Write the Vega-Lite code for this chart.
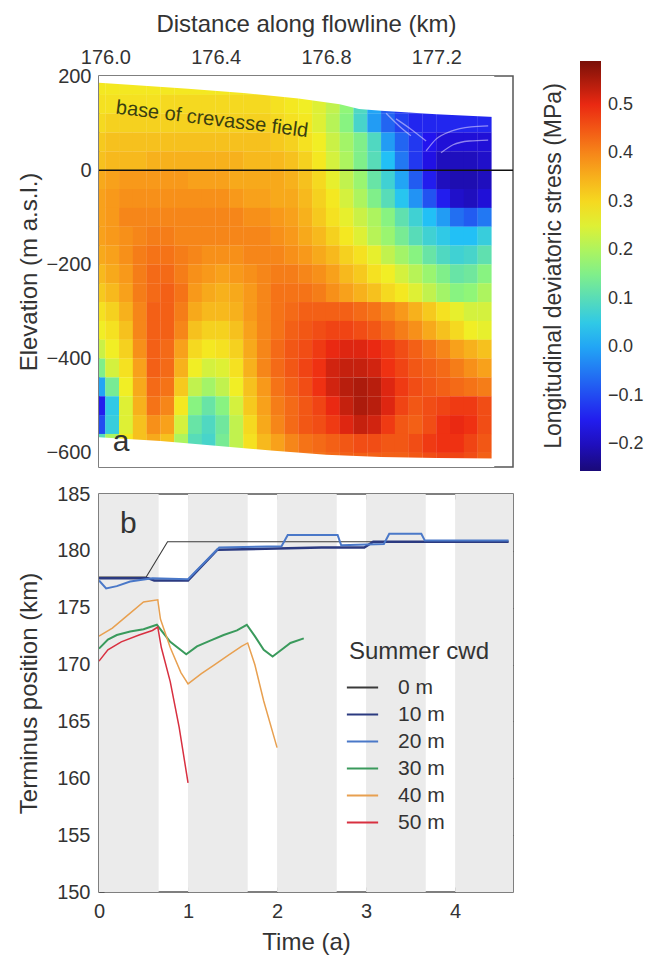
{
"$schema": "https://vega.github.io/schema/vega-lite/v6.json",
"background": "white",
"padding": {"left": 16, "top": 11, "right": 4, "bottom": 0},
"spacing": 11,
"config": {
  "font": "Liberation Sans",
  "view": {"stroke": "#555555", "strokeWidth": 1.5},
  "axis": {"labelColor": "#333333", "titleColor": "#333333", "labelFontSize": 20, "titleFontSize": 24, "titleFontWeight": "normal", "grid": false, "domain": false, "labelFlush": false, "labelOverlap": false, "tickColor": "#555555"},
  "legend": {"labelColor": "#333333", "titleColor": "#333333", "titleFontWeight": "normal"}
},
"resolve": {"scale": {"color": "independent"}},
"vconcat": [
{
  "width": 414, "height": 391,
  "layer": [
    {
      "data": {"values": [
{"dist":175.975,"elev":180,"stress":0.28},{"dist":176.025,"elev":180,"stress":0.28},{"dist":176.075,"elev":180,"stress":0.28},{"dist":176.125,"elev":180,"stress":0.28},{"dist":176.175,"elev":180,"stress":0.28},{"dist":176.225,"elev":180,"stress":0.28},{"dist":176.275,"elev":180,"stress":0.28},{"dist":176.325,"elev":180,"stress":0.28},{"dist":176.375,"elev":180,"stress":0.28},{"dist":176.425,"elev":180,"stress":0.28},{"dist":176.475,"elev":180,"stress":0.28},{"dist":176.525,"elev":180,"stress":0.28},{"dist":176.575,"elev":180,"stress":0.28},{"dist":176.625,"elev":180,"stress":0.27},{"dist":176.675,"elev":180,"stress":0.26},{"dist":176.725,"elev":180,"stress":0.25},{"dist":176.775,"elev":180,"stress":0.24},{"dist":176.825,"elev":180,"stress":0.22},{"dist":176.875,"elev":180,"stress":0.17},{"dist":176.925,"elev":180,"stress":0.1},{"dist":176.975,"elev":180,"stress":0},{"dist":177.025,"elev":180,"stress":-0.1},{"dist":177.075,"elev":180,"stress":-0.1},{"dist":177.125,"elev":180,"stress":-0.1},{"dist":177.175,"elev":180,"stress":-0.1},{"dist":177.225,"elev":180,"stress":-0.1},{"dist":177.275,"elev":180,"stress":-0.1},{"dist":177.325,"elev":180,"stress":-0.1},{"dist":177.375,"elev":180,"stress":-0.1},
{"dist":175.975,"elev":140,"stress":0.29},{"dist":176.025,"elev":140,"stress":0.29},{"dist":176.075,"elev":140,"stress":0.29},{"dist":176.125,"elev":140,"stress":0.29},{"dist":176.175,"elev":140,"stress":0.29},{"dist":176.225,"elev":140,"stress":0.3},{"dist":176.275,"elev":140,"stress":0.3},{"dist":176.325,"elev":140,"stress":0.3},{"dist":176.375,"elev":140,"stress":0.3},{"dist":176.425,"elev":140,"stress":0.3},{"dist":176.475,"elev":140,"stress":0.3},{"dist":176.525,"elev":140,"stress":0.3},{"dist":176.575,"elev":140,"stress":0.3},{"dist":176.625,"elev":140,"stress":0.29},{"dist":176.675,"elev":140,"stress":0.28},{"dist":176.725,"elev":140,"stress":0.27},{"dist":176.775,"elev":140,"stress":0.25},{"dist":176.825,"elev":140,"stress":0.22},{"dist":176.875,"elev":140,"stress":0.17},{"dist":176.925,"elev":140,"stress":0.09},{"dist":176.975,"elev":140,"stress":0},{"dist":177.025,"elev":140,"stress":-0.08},{"dist":177.075,"elev":140,"stress":-0.12},{"dist":177.125,"elev":140,"stress":-0.13},{"dist":177.175,"elev":140,"stress":-0.13},{"dist":177.225,"elev":140,"stress":-0.13},{"dist":177.275,"elev":140,"stress":-0.13},{"dist":177.325,"elev":140,"stress":-0.13},{"dist":177.375,"elev":140,"stress":-0.13},
{"dist":175.975,"elev":100,"stress":0.3},{"dist":176.025,"elev":100,"stress":0.31},{"dist":176.075,"elev":100,"stress":0.31},{"dist":176.125,"elev":100,"stress":0.31},{"dist":176.175,"elev":100,"stress":0.31},{"dist":176.225,"elev":100,"stress":0.31},{"dist":176.275,"elev":100,"stress":0.31},{"dist":176.325,"elev":100,"stress":0.31},{"dist":176.375,"elev":100,"stress":0.31},{"dist":176.425,"elev":100,"stress":0.31},{"dist":176.475,"elev":100,"stress":0.31},{"dist":176.525,"elev":100,"stress":0.31},{"dist":176.575,"elev":100,"stress":0.31},{"dist":176.625,"elev":100,"stress":0.3},{"dist":176.675,"elev":100,"stress":0.29},{"dist":176.725,"elev":100,"stress":0.28},{"dist":176.775,"elev":100,"stress":0.25},{"dist":176.825,"elev":100,"stress":0.21},{"dist":176.875,"elev":100,"stress":0.16},{"dist":176.925,"elev":100,"stress":0.08},{"dist":176.975,"elev":100,"stress":-0.01},{"dist":177.025,"elev":100,"stress":-0.07},{"dist":177.075,"elev":100,"stress":-0.11},{"dist":177.125,"elev":100,"stress":-0.14},{"dist":177.175,"elev":100,"stress":-0.14},{"dist":177.225,"elev":100,"stress":-0.14},{"dist":177.275,"elev":100,"stress":-0.14},{"dist":177.325,"elev":100,"stress":-0.14},{"dist":177.375,"elev":100,"stress":-0.14},
{"dist":175.975,"elev":60,"stress":0.32},{"dist":176.025,"elev":60,"stress":0.33},{"dist":176.075,"elev":60,"stress":0.33},{"dist":176.125,"elev":60,"stress":0.33},{"dist":176.175,"elev":60,"stress":0.33},{"dist":176.225,"elev":60,"stress":0.33},{"dist":176.275,"elev":60,"stress":0.33},{"dist":176.325,"elev":60,"stress":0.33},{"dist":176.375,"elev":60,"stress":0.33},{"dist":176.425,"elev":60,"stress":0.33},{"dist":176.475,"elev":60,"stress":0.33},{"dist":176.525,"elev":60,"stress":0.33},{"dist":176.575,"elev":60,"stress":0.33},{"dist":176.625,"elev":60,"stress":0.32},{"dist":176.675,"elev":60,"stress":0.31},{"dist":176.725,"elev":60,"stress":0.29},{"dist":176.775,"elev":60,"stress":0.27},{"dist":176.825,"elev":60,"stress":0.23},{"dist":176.875,"elev":60,"stress":0.19},{"dist":176.925,"elev":60,"stress":0.15},{"dist":176.975,"elev":60,"stress":0.09},{"dist":177.025,"elev":60,"stress":-0.01},{"dist":177.075,"elev":60,"stress":-0.07},{"dist":177.125,"elev":60,"stress":-0.12},{"dist":177.175,"elev":60,"stress":-0.16},{"dist":177.225,"elev":60,"stress":-0.18},{"dist":177.275,"elev":60,"stress":-0.18},{"dist":177.325,"elev":60,"stress":-0.18},{"dist":177.375,"elev":60,"stress":-0.18},
{"dist":175.975,"elev":20,"stress":0.33},{"dist":176.025,"elev":20,"stress":0.34},{"dist":176.075,"elev":20,"stress":0.34},{"dist":176.125,"elev":20,"stress":0.34},{"dist":176.175,"elev":20,"stress":0.35},{"dist":176.225,"elev":20,"stress":0.35},{"dist":176.275,"elev":20,"stress":0.35},{"dist":176.325,"elev":20,"stress":0.35},{"dist":176.375,"elev":20,"stress":0.35},{"dist":176.425,"elev":20,"stress":0.35},{"dist":176.475,"elev":20,"stress":0.35},{"dist":176.525,"elev":20,"stress":0.34},{"dist":176.575,"elev":20,"stress":0.34},{"dist":176.625,"elev":20,"stress":0.34},{"dist":176.675,"elev":20,"stress":0.33},{"dist":176.725,"elev":20,"stress":0.31},{"dist":176.775,"elev":20,"stress":0.28},{"dist":176.825,"elev":20,"stress":0.24},{"dist":176.875,"elev":20,"stress":0.2},{"dist":176.925,"elev":20,"stress":0.15},{"dist":176.975,"elev":20,"stress":0.1},{"dist":177.025,"elev":20,"stress":0.03},{"dist":177.075,"elev":20,"stress":-0.05},{"dist":177.125,"elev":20,"stress":-0.12},{"dist":177.175,"elev":20,"stress":-0.17},{"dist":177.225,"elev":20,"stress":-0.2},{"dist":177.275,"elev":20,"stress":-0.2},{"dist":177.325,"elev":20,"stress":-0.2},{"dist":177.375,"elev":20,"stress":-0.19},
{"dist":175.975,"elev":-20,"stress":0.36},{"dist":176.025,"elev":-20,"stress":0.37},{"dist":176.075,"elev":-20,"stress":0.38},{"dist":176.125,"elev":-20,"stress":0.38},{"dist":176.175,"elev":-20,"stress":0.38},{"dist":176.225,"elev":-20,"stress":0.38},{"dist":176.275,"elev":-20,"stress":0.38},{"dist":176.325,"elev":-20,"stress":0.37},{"dist":176.375,"elev":-20,"stress":0.37},{"dist":176.425,"elev":-20,"stress":0.37},{"dist":176.475,"elev":-20,"stress":0.36},{"dist":176.525,"elev":-20,"stress":0.36},{"dist":176.575,"elev":-20,"stress":0.36},{"dist":176.625,"elev":-20,"stress":0.36},{"dist":176.675,"elev":-20,"stress":0.35},{"dist":176.725,"elev":-20,"stress":0.33},{"dist":176.775,"elev":-20,"stress":0.3},{"dist":176.825,"elev":-20,"stress":0.26},{"dist":176.875,"elev":-20,"stress":0.22},{"dist":176.925,"elev":-20,"stress":0.18},{"dist":176.975,"elev":-20,"stress":0.12},{"dist":177.025,"elev":-20,"stress":0.07},{"dist":177.075,"elev":-20,"stress":0},{"dist":177.125,"elev":-20,"stress":-0.08},{"dist":177.175,"elev":-20,"stress":-0.15},{"dist":177.225,"elev":-20,"stress":-0.2},{"dist":177.275,"elev":-20,"stress":-0.21},{"dist":177.325,"elev":-20,"stress":-0.21},{"dist":177.375,"elev":-20,"stress":-0.2},
{"dist":175.975,"elev":-60,"stress":0.37},{"dist":176.025,"elev":-60,"stress":0.38},{"dist":176.075,"elev":-60,"stress":0.39},{"dist":176.125,"elev":-60,"stress":0.39},{"dist":176.175,"elev":-60,"stress":0.39},{"dist":176.225,"elev":-60,"stress":0.39},{"dist":176.275,"elev":-60,"stress":0.39},{"dist":176.325,"elev":-60,"stress":0.39},{"dist":176.375,"elev":-60,"stress":0.39},{"dist":176.425,"elev":-60,"stress":0.39},{"dist":176.475,"elev":-60,"stress":0.38},{"dist":176.525,"elev":-60,"stress":0.37},{"dist":176.575,"elev":-60,"stress":0.37},{"dist":176.625,"elev":-60,"stress":0.36},{"dist":176.675,"elev":-60,"stress":0.36},{"dist":176.725,"elev":-60,"stress":0.34},{"dist":176.775,"elev":-60,"stress":0.31},{"dist":176.825,"elev":-60,"stress":0.28},{"dist":176.875,"elev":-60,"stress":0.24},{"dist":176.925,"elev":-60,"stress":0.2},{"dist":176.975,"elev":-60,"stress":0.15},{"dist":177.025,"elev":-60,"stress":0.1},{"dist":177.075,"elev":-60,"stress":0.04},{"dist":177.125,"elev":-60,"stress":-0.02},{"dist":177.175,"elev":-60,"stress":-0.09},{"dist":177.225,"elev":-60,"stress":-0.15},{"dist":177.275,"elev":-60,"stress":-0.19},{"dist":177.325,"elev":-60,"stress":-0.2},{"dist":177.375,"elev":-60,"stress":-0.18},
{"dist":175.975,"elev":-100,"stress":0.37},{"dist":176.025,"elev":-100,"stress":0.38},{"dist":176.075,"elev":-100,"stress":0.4},{"dist":176.125,"elev":-100,"stress":0.4},{"dist":176.175,"elev":-100,"stress":0.4},{"dist":176.225,"elev":-100,"stress":0.4},{"dist":176.275,"elev":-100,"stress":0.4},{"dist":176.325,"elev":-100,"stress":0.4},{"dist":176.375,"elev":-100,"stress":0.4},{"dist":176.425,"elev":-100,"stress":0.4},{"dist":176.475,"elev":-100,"stress":0.4},{"dist":176.525,"elev":-100,"stress":0.39},{"dist":176.575,"elev":-100,"stress":0.39},{"dist":176.625,"elev":-100,"stress":0.38},{"dist":176.675,"elev":-100,"stress":0.37},{"dist":176.725,"elev":-100,"stress":0.35},{"dist":176.775,"elev":-100,"stress":0.32},{"dist":176.825,"elev":-100,"stress":0.29},{"dist":176.875,"elev":-100,"stress":0.26},{"dist":176.925,"elev":-100,"stress":0.23},{"dist":176.975,"elev":-100,"stress":0.2},{"dist":177.025,"elev":-100,"stress":0.16},{"dist":177.075,"elev":-100,"stress":0.11},{"dist":177.125,"elev":-100,"stress":0.07},{"dist":177.175,"elev":-100,"stress":0.03},{"dist":177.225,"elev":-100,"stress":-0.01},{"dist":177.275,"elev":-100,"stress":-0.06},{"dist":177.325,"elev":-100,"stress":-0.08},{"dist":177.375,"elev":-100,"stress":-0.05},
{"dist":175.975,"elev":-140,"stress":0.37},{"dist":176.025,"elev":-140,"stress":0.38},{"dist":176.075,"elev":-140,"stress":0.39},{"dist":176.125,"elev":-140,"stress":0.4},{"dist":176.175,"elev":-140,"stress":0.41},{"dist":176.225,"elev":-140,"stress":0.41},{"dist":176.275,"elev":-140,"stress":0.4},{"dist":176.325,"elev":-140,"stress":0.4},{"dist":176.375,"elev":-140,"stress":0.4},{"dist":176.425,"elev":-140,"stress":0.4},{"dist":176.475,"elev":-140,"stress":0.4},{"dist":176.525,"elev":-140,"stress":0.4},{"dist":176.575,"elev":-140,"stress":0.4},{"dist":176.625,"elev":-140,"stress":0.39},{"dist":176.675,"elev":-140,"stress":0.38},{"dist":176.725,"elev":-140,"stress":0.36},{"dist":176.775,"elev":-140,"stress":0.34},{"dist":176.825,"elev":-140,"stress":0.31},{"dist":176.875,"elev":-140,"stress":0.28},{"dist":176.925,"elev":-140,"stress":0.25},{"dist":176.975,"elev":-140,"stress":0.21},{"dist":177.025,"elev":-140,"stress":0.18},{"dist":177.075,"elev":-140,"stress":0.14},{"dist":177.125,"elev":-140,"stress":0.1},{"dist":177.175,"elev":-140,"stress":0.07},{"dist":177.225,"elev":-140,"stress":0.05},{"dist":177.275,"elev":-140,"stress":0.03},{"dist":177.325,"elev":-140,"stress":0.03},{"dist":177.375,"elev":-140,"stress":0.06},
{"dist":175.975,"elev":-180,"stress":0.36},{"dist":176.025,"elev":-180,"stress":0.37},{"dist":176.075,"elev":-180,"stress":0.39},{"dist":176.125,"elev":-180,"stress":0.41},{"dist":176.175,"elev":-180,"stress":0.42},{"dist":176.225,"elev":-180,"stress":0.42},{"dist":176.275,"elev":-180,"stress":0.41},{"dist":176.325,"elev":-180,"stress":0.4},{"dist":176.375,"elev":-180,"stress":0.39},{"dist":176.425,"elev":-180,"stress":0.39},{"dist":176.475,"elev":-180,"stress":0.39},{"dist":176.525,"elev":-180,"stress":0.4},{"dist":176.575,"elev":-180,"stress":0.4},{"dist":176.625,"elev":-180,"stress":0.4},{"dist":176.675,"elev":-180,"stress":0.39},{"dist":176.725,"elev":-180,"stress":0.38},{"dist":176.775,"elev":-180,"stress":0.36},{"dist":176.825,"elev":-180,"stress":0.34},{"dist":176.875,"elev":-180,"stress":0.31},{"dist":176.925,"elev":-180,"stress":0.29},{"dist":176.975,"elev":-180,"stress":0.26},{"dist":177.025,"elev":-180,"stress":0.22},{"dist":177.075,"elev":-180,"stress":0.19},{"dist":177.125,"elev":-180,"stress":0.16},{"dist":177.175,"elev":-180,"stress":0.12},{"dist":177.225,"elev":-180,"stress":0.09},{"dist":177.275,"elev":-180,"stress":0.07},{"dist":177.325,"elev":-180,"stress":0.08},{"dist":177.375,"elev":-180,"stress":0.11},
{"dist":175.975,"elev":-220,"stress":0.34},{"dist":176.025,"elev":-220,"stress":0.36},{"dist":176.075,"elev":-220,"stress":0.38},{"dist":176.125,"elev":-220,"stress":0.41},{"dist":176.175,"elev":-220,"stress":0.43},{"dist":176.225,"elev":-220,"stress":0.43},{"dist":176.275,"elev":-220,"stress":0.41},{"dist":176.325,"elev":-220,"stress":0.39},{"dist":176.375,"elev":-220,"stress":0.38},{"dist":176.425,"elev":-220,"stress":0.37},{"dist":176.475,"elev":-220,"stress":0.38},{"dist":176.525,"elev":-220,"stress":0.39},{"dist":176.575,"elev":-220,"stress":0.4},{"dist":176.625,"elev":-220,"stress":0.41},{"dist":176.675,"elev":-220,"stress":0.41},{"dist":176.725,"elev":-220,"stress":0.4},{"dist":176.775,"elev":-220,"stress":0.39},{"dist":176.825,"elev":-220,"stress":0.37},{"dist":176.875,"elev":-220,"stress":0.34},{"dist":176.925,"elev":-220,"stress":0.32},{"dist":176.975,"elev":-220,"stress":0.29},{"dist":177.025,"elev":-220,"stress":0.27},{"dist":177.075,"elev":-220,"stress":0.24},{"dist":177.125,"elev":-220,"stress":0.21},{"dist":177.175,"elev":-220,"stress":0.18},{"dist":177.225,"elev":-220,"stress":0.15},{"dist":177.275,"elev":-220,"stress":0.12},{"dist":177.325,"elev":-220,"stress":0.13},{"dist":177.375,"elev":-220,"stress":0.16},
{"dist":175.975,"elev":-260,"stress":0.32},{"dist":176.025,"elev":-260,"stress":0.34},{"dist":176.075,"elev":-260,"stress":0.37},{"dist":176.125,"elev":-260,"stress":0.41},{"dist":176.175,"elev":-260,"stress":0.43},{"dist":176.225,"elev":-260,"stress":0.44},{"dist":176.275,"elev":-260,"stress":0.42},{"dist":176.325,"elev":-260,"stress":0.38},{"dist":176.375,"elev":-260,"stress":0.36},{"dist":176.425,"elev":-260,"stress":0.35},{"dist":176.475,"elev":-260,"stress":0.36},{"dist":176.525,"elev":-260,"stress":0.38},{"dist":176.575,"elev":-260,"stress":0.4},{"dist":176.625,"elev":-260,"stress":0.42},{"dist":176.675,"elev":-260,"stress":0.42},{"dist":176.725,"elev":-260,"stress":0.42},{"dist":176.775,"elev":-260,"stress":0.41},{"dist":176.825,"elev":-260,"stress":0.39},{"dist":176.875,"elev":-260,"stress":0.37},{"dist":176.925,"elev":-260,"stress":0.35},{"dist":176.975,"elev":-260,"stress":0.33},{"dist":177.025,"elev":-260,"stress":0.3},{"dist":177.075,"elev":-260,"stress":0.28},{"dist":177.125,"elev":-260,"stress":0.25},{"dist":177.175,"elev":-260,"stress":0.22},{"dist":177.225,"elev":-260,"stress":0.19},{"dist":177.275,"elev":-260,"stress":0.16},{"dist":177.325,"elev":-260,"stress":0.17},{"dist":177.375,"elev":-260,"stress":0.2},
{"dist":175.975,"elev":-300,"stress":0.29},{"dist":176.025,"elev":-300,"stress":0.31},{"dist":176.075,"elev":-300,"stress":0.35},{"dist":176.125,"elev":-300,"stress":0.4},{"dist":176.175,"elev":-300,"stress":0.44},{"dist":176.225,"elev":-300,"stress":0.44},{"dist":176.275,"elev":-300,"stress":0.41},{"dist":176.325,"elev":-300,"stress":0.36},{"dist":176.375,"elev":-300,"stress":0.34},{"dist":176.425,"elev":-300,"stress":0.34},{"dist":176.475,"elev":-300,"stress":0.35},{"dist":176.525,"elev":-300,"stress":0.38},{"dist":176.575,"elev":-300,"stress":0.4},{"dist":176.625,"elev":-300,"stress":0.42},{"dist":176.675,"elev":-300,"stress":0.43},{"dist":176.725,"elev":-300,"stress":0.44},{"dist":176.775,"elev":-300,"stress":0.44},{"dist":176.825,"elev":-300,"stress":0.44},{"dist":176.875,"elev":-300,"stress":0.44},{"dist":176.925,"elev":-300,"stress":0.43},{"dist":176.975,"elev":-300,"stress":0.42},{"dist":177.025,"elev":-300,"stress":0.4},{"dist":177.075,"elev":-300,"stress":0.38},{"dist":177.125,"elev":-300,"stress":0.35},{"dist":177.175,"elev":-300,"stress":0.32},{"dist":177.225,"elev":-300,"stress":0.29},{"dist":177.275,"elev":-300,"stress":0.26},{"dist":177.325,"elev":-300,"stress":0.24},{"dist":177.375,"elev":-300,"stress":0.24},
{"dist":175.975,"elev":-340,"stress":0.27},{"dist":176.025,"elev":-340,"stress":0.29},{"dist":176.075,"elev":-340,"stress":0.33},{"dist":176.125,"elev":-340,"stress":0.4},{"dist":176.175,"elev":-340,"stress":0.44},{"dist":176.225,"elev":-340,"stress":0.44},{"dist":176.275,"elev":-340,"stress":0.4},{"dist":176.325,"elev":-340,"stress":0.33},{"dist":176.375,"elev":-340,"stress":0.31},{"dist":176.425,"elev":-340,"stress":0.31},{"dist":176.475,"elev":-340,"stress":0.33},{"dist":176.525,"elev":-340,"stress":0.37},{"dist":176.575,"elev":-340,"stress":0.4},{"dist":176.625,"elev":-340,"stress":0.42},{"dist":176.675,"elev":-340,"stress":0.44},{"dist":176.725,"elev":-340,"stress":0.45},{"dist":176.775,"elev":-340,"stress":0.46},{"dist":176.825,"elev":-340,"stress":0.47},{"dist":176.875,"elev":-340,"stress":0.47},{"dist":176.925,"elev":-340,"stress":0.46},{"dist":176.975,"elev":-340,"stress":0.45},{"dist":177.025,"elev":-340,"stress":0.43},{"dist":177.075,"elev":-340,"stress":0.41},{"dist":177.125,"elev":-340,"stress":0.39},{"dist":177.175,"elev":-340,"stress":0.36},{"dist":177.225,"elev":-340,"stress":0.33},{"dist":177.275,"elev":-340,"stress":0.3},{"dist":177.325,"elev":-340,"stress":0.27},{"dist":177.375,"elev":-340,"stress":0.26},
{"dist":175.975,"elev":-380,"stress":0.23},{"dist":176.025,"elev":-380,"stress":0.27},{"dist":176.075,"elev":-380,"stress":0.31},{"dist":176.125,"elev":-380,"stress":0.39},{"dist":176.175,"elev":-380,"stress":0.44},{"dist":176.225,"elev":-380,"stress":0.43},{"dist":176.275,"elev":-380,"stress":0.37},{"dist":176.325,"elev":-380,"stress":0.3},{"dist":176.375,"elev":-380,"stress":0.28},{"dist":176.425,"elev":-380,"stress":0.29},{"dist":176.475,"elev":-380,"stress":0.31},{"dist":176.525,"elev":-380,"stress":0.36},{"dist":176.575,"elev":-380,"stress":0.4},{"dist":176.625,"elev":-380,"stress":0.43},{"dist":176.675,"elev":-380,"stress":0.45},{"dist":176.725,"elev":-380,"stress":0.46},{"dist":176.775,"elev":-380,"stress":0.48},{"dist":176.825,"elev":-380,"stress":0.5},{"dist":176.875,"elev":-380,"stress":0.51},{"dist":176.925,"elev":-380,"stress":0.51},{"dist":176.975,"elev":-380,"stress":0.5},{"dist":177.025,"elev":-380,"stress":0.48},{"dist":177.075,"elev":-380,"stress":0.46},{"dist":177.125,"elev":-380,"stress":0.44},{"dist":177.175,"elev":-380,"stress":0.42},{"dist":177.225,"elev":-380,"stress":0.4},{"dist":177.275,"elev":-380,"stress":0.37},{"dist":177.325,"elev":-380,"stress":0.35},{"dist":177.375,"elev":-380,"stress":0.33},
{"dist":175.975,"elev":-420,"stress":0.15},{"dist":176.025,"elev":-420,"stress":0.24},{"dist":176.075,"elev":-420,"stress":0.29},{"dist":176.125,"elev":-420,"stress":0.37},{"dist":176.175,"elev":-420,"stress":0.44},{"dist":176.225,"elev":-420,"stress":0.43},{"dist":176.275,"elev":-420,"stress":0.35},{"dist":176.325,"elev":-420,"stress":0.27},{"dist":176.375,"elev":-420,"stress":0.24},{"dist":176.425,"elev":-420,"stress":0.25},{"dist":176.475,"elev":-420,"stress":0.29},{"dist":176.525,"elev":-420,"stress":0.35},{"dist":176.575,"elev":-420,"stress":0.4},{"dist":176.625,"elev":-420,"stress":0.43},{"dist":176.675,"elev":-420,"stress":0.45},{"dist":176.725,"elev":-420,"stress":0.47},{"dist":176.775,"elev":-420,"stress":0.49},{"dist":176.825,"elev":-420,"stress":0.52},{"dist":176.875,"elev":-420,"stress":0.53},{"dist":176.925,"elev":-420,"stress":0.53},{"dist":176.975,"elev":-420,"stress":0.52},{"dist":177.025,"elev":-420,"stress":0.49},{"dist":177.075,"elev":-420,"stress":0.47},{"dist":177.125,"elev":-420,"stress":0.45},{"dist":177.175,"elev":-420,"stress":0.44},{"dist":177.225,"elev":-420,"stress":0.43},{"dist":177.275,"elev":-420,"stress":0.41},{"dist":177.325,"elev":-420,"stress":0.39},{"dist":177.375,"elev":-420,"stress":0.37},
{"dist":175.975,"elev":-460,"stress":0},{"dist":176.025,"elev":-460,"stress":0.14},{"dist":176.075,"elev":-460,"stress":0.27},{"dist":176.125,"elev":-460,"stress":0.36},{"dist":176.175,"elev":-460,"stress":0.43},{"dist":176.225,"elev":-460,"stress":0.42},{"dist":176.275,"elev":-460,"stress":0.32},{"dist":176.325,"elev":-460,"stress":0.22},{"dist":176.375,"elev":-460,"stress":0.19},{"dist":176.425,"elev":-460,"stress":0.22},{"dist":176.475,"elev":-460,"stress":0.27},{"dist":176.525,"elev":-460,"stress":0.33},{"dist":176.575,"elev":-460,"stress":0.38},{"dist":176.625,"elev":-460,"stress":0.42},{"dist":176.675,"elev":-460,"stress":0.44},{"dist":176.725,"elev":-460,"stress":0.46},{"dist":176.775,"elev":-460,"stress":0.49},{"dist":176.825,"elev":-460,"stress":0.52},{"dist":176.875,"elev":-460,"stress":0.54},{"dist":176.925,"elev":-460,"stress":0.55},{"dist":176.975,"elev":-460,"stress":0.54},{"dist":177.025,"elev":-460,"stress":0.51},{"dist":177.075,"elev":-460,"stress":0.48},{"dist":177.125,"elev":-460,"stress":0.46},{"dist":177.175,"elev":-460,"stress":0.45},{"dist":177.225,"elev":-460,"stress":0.44},{"dist":177.275,"elev":-460,"stress":0.43},{"dist":177.325,"elev":-460,"stress":0.42},{"dist":177.375,"elev":-460,"stress":0.41},
{"dist":175.975,"elev":-500,"stress":-0.15},{"dist":176.025,"elev":-500,"stress":0.05},{"dist":176.075,"elev":-500,"stress":0.25},{"dist":176.125,"elev":-500,"stress":0.35},{"dist":176.175,"elev":-500,"stress":0.42},{"dist":176.225,"elev":-500,"stress":0.4},{"dist":176.275,"elev":-500,"stress":0.28},{"dist":176.325,"elev":-500,"stress":0.16},{"dist":176.375,"elev":-500,"stress":0.12},{"dist":176.425,"elev":-500,"stress":0.16},{"dist":176.475,"elev":-500,"stress":0.24},{"dist":176.525,"elev":-500,"stress":0.32},{"dist":176.575,"elev":-500,"stress":0.37},{"dist":176.625,"elev":-500,"stress":0.41},{"dist":176.675,"elev":-500,"stress":0.43},{"dist":176.725,"elev":-500,"stress":0.45},{"dist":176.775,"elev":-500,"stress":0.47},{"dist":176.825,"elev":-500,"stress":0.5},{"dist":176.875,"elev":-500,"stress":0.53},{"dist":176.925,"elev":-500,"stress":0.55},{"dist":176.975,"elev":-500,"stress":0.54},{"dist":177.025,"elev":-500,"stress":0.51},{"dist":177.075,"elev":-500,"stress":0.47},{"dist":177.125,"elev":-500,"stress":0.45},{"dist":177.175,"elev":-500,"stress":0.46},{"dist":177.225,"elev":-500,"stress":0.47},{"dist":177.275,"elev":-500,"stress":0.48},{"dist":177.325,"elev":-500,"stress":0.48},{"dist":177.375,"elev":-500,"stress":0.46},
{"dist":175.975,"elev":-540,"stress":-0.1},{"dist":176.025,"elev":-540,"stress":0.06},{"dist":176.075,"elev":-540,"stress":0.25},{"dist":176.125,"elev":-540,"stress":0.33},{"dist":176.175,"elev":-540,"stress":0.39},{"dist":176.225,"elev":-540,"stress":0.37},{"dist":176.275,"elev":-540,"stress":0.24},{"dist":176.325,"elev":-540,"stress":0.12},{"dist":176.375,"elev":-540,"stress":0.09},{"dist":176.425,"elev":-540,"stress":0.13},{"dist":176.475,"elev":-540,"stress":0.22},{"dist":176.525,"elev":-540,"stress":0.3},{"dist":176.575,"elev":-540,"stress":0.36},{"dist":176.625,"elev":-540,"stress":0.4},{"dist":176.675,"elev":-540,"stress":0.43},{"dist":176.725,"elev":-540,"stress":0.45},{"dist":176.775,"elev":-540,"stress":0.46},{"dist":176.825,"elev":-540,"stress":0.48},{"dist":176.875,"elev":-540,"stress":0.51},{"dist":176.925,"elev":-540,"stress":0.53},{"dist":176.975,"elev":-540,"stress":0.52},{"dist":177.025,"elev":-540,"stress":0.48},{"dist":177.075,"elev":-540,"stress":0.45},{"dist":177.125,"elev":-540,"stress":0.44},{"dist":177.175,"elev":-540,"stress":0.46},{"dist":177.225,"elev":-540,"stress":0.49},{"dist":177.275,"elev":-540,"stress":0.5},{"dist":177.325,"elev":-540,"stress":0.49},{"dist":177.375,"elev":-540,"stress":0.46},
{"dist":175.975,"elev":-580,"stress":0.1},{"dist":176.025,"elev":-580,"stress":0.2},{"dist":176.075,"elev":-580,"stress":0.28},{"dist":176.125,"elev":-580,"stress":0.33},{"dist":176.175,"elev":-580,"stress":0.36},{"dist":176.225,"elev":-580,"stress":0.33},{"dist":176.275,"elev":-580,"stress":0.2},{"dist":176.325,"elev":-580,"stress":0.1},{"dist":176.375,"elev":-580,"stress":0.08},{"dist":176.425,"elev":-580,"stress":0.14},{"dist":176.475,"elev":-580,"stress":0.22},{"dist":176.525,"elev":-580,"stress":0.29},{"dist":176.575,"elev":-580,"stress":0.34},{"dist":176.625,"elev":-580,"stress":0.37},{"dist":176.675,"elev":-580,"stress":0.4},{"dist":176.725,"elev":-580,"stress":0.42},{"dist":176.775,"elev":-580,"stress":0.43},{"dist":176.825,"elev":-580,"stress":0.44},{"dist":176.875,"elev":-580,"stress":0.45},{"dist":176.925,"elev":-580,"stress":0.46},{"dist":176.975,"elev":-580,"stress":0.46},{"dist":177.025,"elev":-580,"stress":0.45},{"dist":177.075,"elev":-580,"stress":0.45},{"dist":177.125,"elev":-580,"stress":0.46},{"dist":177.175,"elev":-580,"stress":0.48},{"dist":177.225,"elev":-580,"stress":0.49},{"dist":177.275,"elev":-580,"stress":0.49},{"dist":177.325,"elev":-580,"stress":0.47},{"dist":177.375,"elev":-580,"stress":0.45},
{"dist":175.975,"elev":-620,"stress":0.2},{"dist":176.025,"elev":-620,"stress":0.25},{"dist":176.075,"elev":-620,"stress":0.3},{"dist":176.125,"elev":-620,"stress":0.33},{"dist":176.175,"elev":-620,"stress":0.35},{"dist":176.225,"elev":-620,"stress":0.32},{"dist":176.275,"elev":-620,"stress":0.22},{"dist":176.325,"elev":-620,"stress":0.14},{"dist":176.375,"elev":-620,"stress":0.12},{"dist":176.425,"elev":-620,"stress":0.16},{"dist":176.475,"elev":-620,"stress":0.23},{"dist":176.525,"elev":-620,"stress":0.29},{"dist":176.575,"elev":-620,"stress":0.34},{"dist":176.625,"elev":-620,"stress":0.37},{"dist":176.675,"elev":-620,"stress":0.39},{"dist":176.725,"elev":-620,"stress":0.41},{"dist":176.775,"elev":-620,"stress":0.42},{"dist":176.825,"elev":-620,"stress":0.43},{"dist":176.875,"elev":-620,"stress":0.44},{"dist":176.925,"elev":-620,"stress":0.44},{"dist":176.975,"elev":-620,"stress":0.44},{"dist":177.025,"elev":-620,"stress":0.44},{"dist":177.075,"elev":-620,"stress":0.44},{"dist":177.125,"elev":-620,"stress":0.45},{"dist":177.175,"elev":-620,"stress":0.46},{"dist":177.225,"elev":-620,"stress":0.47},{"dist":177.275,"elev":-620,"stress":0.47},{"dist":177.325,"elev":-620,"stress":0.46},{"dist":177.375,"elev":-620,"stress":0.44}
      ]},
      "mark": {"type": "rect", "width": 14, "height": 19, "clip": true},
      "encoding": {
        "x": {"field": "dist", "type": "quantitative", "title": "Distance along flowline (km)",
              "scale": {"domain": [175.977, 177.478], "nice": false, "zero": false},
              "axis": {"orient": "top", "values": [176, 176.4, 176.8, 177.2], "format": ".1f", "ticks": false, "labelPadding": 9, "titlePadding": 11}},
        "y": {"field": "elev", "type": "quantitative", "title": "Elevation (m a.s.l.)",
              "scale": {"domain": [-630, 200], "nice": false, "zero": false},
              "axis": {"values": [-600, -400, -200, 0, 200], "ticks": false, "labelPadding": 8, "titlePadding": 12, "minExtent": 46, "maxExtent": 46}},
        "color": {"field": "stress", "type": "quantitative",
              "scale": {"domain": [-0.255, -0.162, 0.032, 0.168, 0.273, 0.379, 0.497, 0.59],
                        "range": ["#1a0a78", "#2212ee", "#22c2f6", "#8ef67a", "#f4ee22", "#f89a1a", "#ee2a12", "#7a1008"],
                        "interpolate": "rgb"},
              "legend": {"title": "Longitudinal deviatoric stress (MPa)", "orient": "none", "legendX": 444, "legendY": -15,
                         "direction": "vertical", "gradientLength": 410, "gradientThickness": 21, "gradientStrokeWidth": 0,
                         "values": [-0.2, -0.1, 0, 0.1, 0.2, 0.3, 0.4, 0.5], "format": ".1f",
                         "labelFontSize": 18, "labelOffset": 7, "titleFontSize": 23, "titleLimit": 600,
                         "titleOrient": "left", "titleAngle": 270, "titleAnchor": "middle", "titlePadding": 13}}
      }
    },
    {
      "data": {"values": [
        {"dist": 175.95, "elev": 187}, {"dist": 176.1, "elev": 181}, {"dist": 176.3, "elev": 173},
        {"dist": 176.5, "elev": 164}, {"dist": 176.7, "elev": 152}, {"dist": 176.85, "elev": 140},
        {"dist": 176.92, "elev": 130}, {"dist": 177.0, "elev": 126}, {"dist": 177.2, "elev": 119},
        {"dist": 177.41, "elev": 113}
      ]},
      "mark": {"type": "area", "color": "white", "clip": true},
      "encoding": {
        "x": {"field": "dist", "type": "quantitative"},
        "y": {"field": "elev", "type": "quantitative"},
        "y2": {"datum": 200}
      }
    },
    {
      "data": {"values": [
        {"dist": 175.95, "elev": -566}, {"dist": 176.2, "elev": -575}, {"dist": 176.4, "elev": -585},
        {"dist": 176.6, "elev": -595}, {"dist": 176.8, "elev": -604}, {"dist": 177.0, "elev": -609},
        {"dist": 177.2, "elev": -611}, {"dist": 177.41, "elev": -612}
      ]},
      "mark": {"type": "area", "color": "white", "clip": true},
      "encoding": {
        "x": {"field": "dist", "type": "quantitative"},
        "y": {"field": "elev", "type": "quantitative"},
        "y2": {"datum": -630}
      }
    },
    {
      "data": {"values": [
        {"id": 1, "dist": 177.163, "elev": 41}, {"id": 1, "dist": 177.199, "elev": 66}, {"id": 1, "dist": 177.254, "elev": 83}, {"id": 1, "dist": 177.326, "elev": 92}, {"id": 1, "dist": 177.388, "elev": 94},
        {"id": 2, "dist": 177.217, "elev": 37}, {"id": 2, "dist": 177.261, "elev": 54}, {"id": 2, "dist": 177.319, "elev": 62}, {"id": 2, "dist": 177.388, "elev": 64},
        {"id": 3, "dist": 177.054, "elev": 109}, {"id": 3, "dist": 177.108, "elev": 87}, {"id": 3, "dist": 177.163, "elev": 62},
        {"id": 4, "dist": 177.018, "elev": 121}, {"id": 4, "dist": 177.065, "elev": 94}, {"id": 4, "dist": 177.108, "elev": 73}
      ]},
      "mark": {"type": "line", "color": "#d8d0ff", "strokeWidth": 1.3, "opacity": 0.6, "interpolate": "monotone"},
      "encoding": {
        "x": {"field": "dist", "type": "quantitative"},
        "y": {"field": "elev", "type": "quantitative"},
        "detail": {"field": "id", "type": "nominal"}
      }
    },
    {
      "data": {"values": [{"elev": 0}]},
      "mark": {"type": "rule", "color": "#111111", "strokeWidth": 1.6},
      "encoding": {"y": {"field": "elev", "type": "quantitative"}}
    },
    {
      "data": {"values": [{"dist": 176.387, "elev": 108, "label": "base of crevasse field"}]},
      "mark": {"type": "text", "angle": 7, "fontSize": 20, "color": "#3a4010", "align": "center", "baseline": "middle"},
      "encoding": {
        "x": {"field": "dist", "type": "quantitative"},
        "y": {"field": "elev", "type": "quantitative"},
        "text": {"field": "label"}
      }
    },
    {
      "data": {"values": [{"dist": 176.057, "elev": -577, "label": "a"}]},
      "mark": {"type": "text", "fontSize": 30, "color": "#333333", "align": "center", "baseline": "middle"},
      "encoding": {
        "x": {"field": "dist", "type": "quantitative"},
        "y": {"field": "elev", "type": "quantitative"},
        "text": {"field": "label"}
      }
    }
  ]
},
{
  "width": 414, "height": 398,
  "resolve": {"axis": {"x": "independent", "y": "independent"}},
  "layer": [
    {
      "data": {"values": [
        {"start": 0, "end": 0.67}, {"start": 1, "end": 1.67}, {"start": 2, "end": 2.67},
        {"start": 3, "end": 3.67}, {"start": 4, "end": 4.65}
      ]},
      "mark": {"type": "rect", "color": "#ebebeb"},
      "encoding": {
        "x": {"field": "start", "type": "quantitative", "scale": {"domain": [0, 4.65], "nice": false, "zero": false}, "axis": null},
        "x2": {"field": "end"}
      }
    },
    {
      "data": {"values": [
        {"cwd": "0 m", "t": 0, "pos": 177.7}, {"cwd": "0 m", "t": 0.53, "pos": 177.7}, {"cwd": "0 m", "t": 0.77, "pos": 180.8}, {"cwd": "0 m", "t": 4.6, "pos": 180.8},
        {"cwd": "10 m", "t": 0, "pos": 177.6}, {"cwd": "10 m", "t": 0.55, "pos": 177.6}, {"cwd": "10 m", "t": 0.62, "pos": 177.4}, {"cwd": "10 m", "t": 1.0, "pos": 177.4}, {"cwd": "10 m", "t": 1.33, "pos": 180.1}, {"cwd": "10 m", "t": 2.0, "pos": 180.2}, {"cwd": "10 m", "t": 2.5, "pos": 180.3}, {"cwd": "10 m", "t": 2.98, "pos": 180.3}, {"cwd": "10 m", "t": 3.08, "pos": 180.8}, {"cwd": "10 m", "t": 4.6, "pos": 180.8},
        {"cwd": "20 m", "t": 0, "pos": 177.4}, {"cwd": "20 m", "t": 0.08, "pos": 176.7}, {"cwd": "20 m", "t": 0.2, "pos": 176.9}, {"cwd": "20 m", "t": 0.35, "pos": 177.3}, {"cwd": "20 m", "t": 0.6, "pos": 177.6}, {"cwd": "20 m", "t": 1.0, "pos": 177.5}, {"cwd": "20 m", "t": 1.35, "pos": 180.3}, {"cwd": "20 m", "t": 2.05, "pos": 180.4}, {"cwd": "20 m", "t": 2.12, "pos": 181.4}, {"cwd": "20 m", "t": 2.68, "pos": 181.4}, {"cwd": "20 m", "t": 2.72, "pos": 180.5}, {"cwd": "20 m", "t": 3.2, "pos": 180.6}, {"cwd": "20 m", "t": 3.26, "pos": 181.5}, {"cwd": "20 m", "t": 3.62, "pos": 181.5}, {"cwd": "20 m", "t": 3.66, "pos": 180.9}, {"cwd": "20 m", "t": 4.6, "pos": 180.9},
        {"cwd": "30 m", "t": 0, "pos": 171.4}, {"cwd": "30 m", "t": 0.1, "pos": 172.2}, {"cwd": "30 m", "t": 0.2, "pos": 172.6}, {"cwd": "30 m", "t": 0.35, "pos": 172.9}, {"cwd": "30 m", "t": 0.5, "pos": 173.1}, {"cwd": "30 m", "t": 0.65, "pos": 173.5}, {"cwd": "30 m", "t": 0.8, "pos": 172.0}, {"cwd": "30 m", "t": 0.98, "pos": 170.9}, {"cwd": "30 m", "t": 1.1, "pos": 171.6}, {"cwd": "30 m", "t": 1.25, "pos": 172.1}, {"cwd": "30 m", "t": 1.4, "pos": 172.6}, {"cwd": "30 m", "t": 1.55, "pos": 173.0}, {"cwd": "30 m", "t": 1.66, "pos": 173.5}, {"cwd": "30 m", "t": 1.75, "pos": 172.5}, {"cwd": "30 m", "t": 1.85, "pos": 171.3}, {"cwd": "30 m", "t": 1.95, "pos": 170.7}, {"cwd": "30 m", "t": 2.05, "pos": 171.3}, {"cwd": "30 m", "t": 2.15, "pos": 171.9}, {"cwd": "30 m", "t": 2.3, "pos": 172.3},
        {"cwd": "40 m", "t": 0, "pos": 172.5}, {"cwd": "40 m", "t": 0.15, "pos": 173.2}, {"cwd": "40 m", "t": 0.3, "pos": 174.2}, {"cwd": "40 m", "t": 0.5, "pos": 175.5}, {"cwd": "40 m", "t": 0.66, "pos": 175.7}, {"cwd": "40 m", "t": 0.69, "pos": 174.0}, {"cwd": "40 m", "t": 0.8, "pos": 171.5}, {"cwd": "40 m", "t": 0.92, "pos": 169.3}, {"cwd": "40 m", "t": 1.0, "pos": 168.3}, {"cwd": "40 m", "t": 1.15, "pos": 169.2}, {"cwd": "40 m", "t": 1.3, "pos": 170.0}, {"cwd": "40 m", "t": 1.45, "pos": 170.8}, {"cwd": "40 m", "t": 1.6, "pos": 171.6}, {"cwd": "40 m", "t": 1.67, "pos": 171.9}, {"cwd": "40 m", "t": 1.75, "pos": 170.0}, {"cwd": "40 m", "t": 1.85, "pos": 166.8}, {"cwd": "40 m", "t": 2.0, "pos": 162.7},
        {"cwd": "50 m", "t": 0, "pos": 170.3}, {"cwd": "50 m", "t": 0.1, "pos": 171.3}, {"cwd": "50 m", "t": 0.25, "pos": 172.0}, {"cwd": "50 m", "t": 0.45, "pos": 172.6}, {"cwd": "50 m", "t": 0.6, "pos": 173.0}, {"cwd": "50 m", "t": 0.66, "pos": 173.3}, {"cwd": "50 m", "t": 0.7, "pos": 171.5}, {"cwd": "50 m", "t": 0.8, "pos": 168.5}, {"cwd": "50 m", "t": 0.9, "pos": 164.5}, {"cwd": "50 m", "t": 1.0, "pos": 159.6}
      ]},
      "mark": {"type": "line", "clip": true},
      "encoding": {
        "x": {"field": "t", "type": "quantitative", "title": "Time (a)",
              "scale": {"domain": [0, 4.65], "nice": false, "zero": false},
              "axis": {"values": [0, 1, 2, 3, 4], "tickSize": -5, "labelPadding": 14, "titlePadding": 9}},
        "y": {"field": "pos", "type": "quantitative", "title": "Terminus position (km)",
              "scale": {"domain": [150, 185], "nice": false, "zero": false},
              "axis": {"values": [150, 155, 160, 165, 170, 175, 180, 185], "tickSize": -5, "labelPadding": 14, "titlePadding": 12, "minExtent": 46, "maxExtent": 46}},
        "color": {"field": "cwd", "type": "nominal",
              "scale": {"domain": ["0 m", "10 m", "20 m", "30 m", "40 m", "50 m"],
                        "range": ["#3a3a3a", "#2b3a80", "#4a78c8", "#3a9a5c", "#e8a050", "#d83040"]},
              "legend": {"title": "Summer cwd", "orient": "none", "legendX": 250, "legendY": 146, "padding": 0,
                         "titleFontSize": 24, "labelFontSize": 21, "titlePadding": 10,
                         "symbolType": "M-1.25,0H1.25", "symbolSize": 625, "symbolStrokeWidth": 2,
                         "rowPadding": 3, "labelOffset": 22,
                         "labelExpr": "datum.label == '0 m' ? '\u20070 m' : datum.label"}},
        "strokeWidth": {"condition": [
              {"test": "datum.cwd == '0 m'", "value": 1.1},
              {"test": "datum.cwd == '10 m'", "value": 2.5},
              {"test": "datum.cwd == '20 m'", "value": 2},
              {"test": "datum.cwd == '30 m'", "value": 2}], "value": 1.5}
      }
    },
    {
      "data": {"values": [{"t": 0, "pos": 150}, {"t": 4.65, "pos": 185}]},
      "mark": {"type": "point", "opacity": 0},
      "encoding": {
        "x": {"field": "t", "type": "quantitative", "axis": {"orient": "top", "labels": false, "values": [1, 2, 3, 4], "tickSize": -5, "title": null}},
        "y": {"field": "pos", "type": "quantitative", "axis": {"orient": "right", "labels": false, "values": [155, 160, 165, 170, 175, 180], "tickSize": -5, "title": null}}
      }
    },
    {
      "data": {"values": [{"t": 0.33, "pos": 182.4, "label": "b"}]},
      "mark": {"type": "text", "fontSize": 30, "color": "#333333", "align": "center", "baseline": "middle"},
      "encoding": {
        "x": {"field": "t", "type": "quantitative", "axis": null},
        "y": {"field": "pos", "type": "quantitative", "axis": null},
        "text": {"field": "label"}
      }
    }
  ]
}
]
}
